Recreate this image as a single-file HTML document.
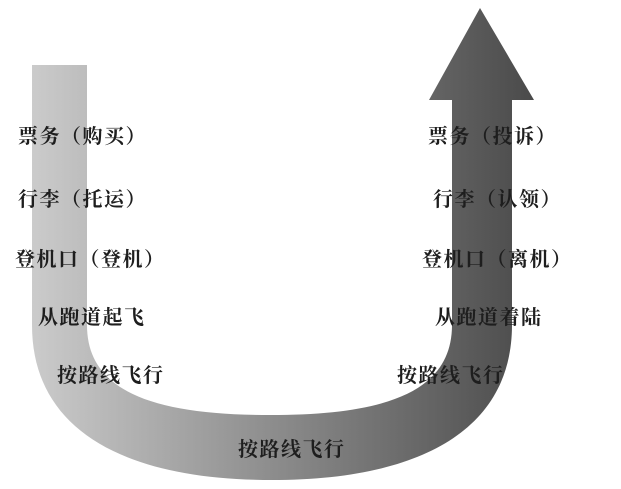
<!DOCTYPE html>
<html><head><meta charset="utf-8"><style>
html,body{margin:0;padding:0;background:#fff;}
.w{position:relative;width:621px;height:489px;overflow:hidden;}
svg{position:absolute;left:0;top:0;}
.t{position:absolute;font-family:"Liberation Serif","Noto Serif CJK SC",serif;font-weight:bold;font-size:20px;color:#1e1e1e;white-space:nowrap;line-height:20px;letter-spacing:1.5px;}
</style></head><body><div class="w">
<svg width="621" height="489" viewBox="0 0 621 489">
<defs><linearGradient id="g" x1="0" y1="0" x2="1" y2="0" gradientUnits="objectBoundingBox">
<stop offset="0" stop-color="#cbcbcb"/><stop offset="0.5" stop-color="#8a8a8a"/><stop offset="1" stop-color="#4a4a4a"/></linearGradient></defs>
<path d="M32,65 L87,65 L87,325 C87,390 150,415 270,415 C390,415 452,390 452,325 L452,100 L429,100 L480,8 L534,100 L512,100 L512,325 C512,430 420,480 272,480 C124,480 32,430 32,325 Z" fill="url(#g)"/>
</svg>
<div class="t" style="left:18px;top:127px">票务（购买）</div>
<div class="t" style="left:18px;top:190px">行李（托运）</div>
<div class="t" style="left:15px;top:250px">登机口（登机）</div>
<div class="t" style="left:38px;top:308px">从跑道起飞</div>
<div class="t" style="left:57px;top:366px">按路线飞行</div>
<div class="t" style="left:428px;top:127px">票务（投诉）</div>
<div class="t" style="left:433px;top:190px">行李（认领）</div>
<div class="t" style="left:422px;top:250px">登机口（离机）</div>
<div class="t" style="left:435px;top:308px">从跑道着陆</div>
<div class="t" style="left:397px;top:366px">按路线飞行</div>
<div class="t" style="left:238px;top:440px">按路线飞行</div>
</div></body></html>
